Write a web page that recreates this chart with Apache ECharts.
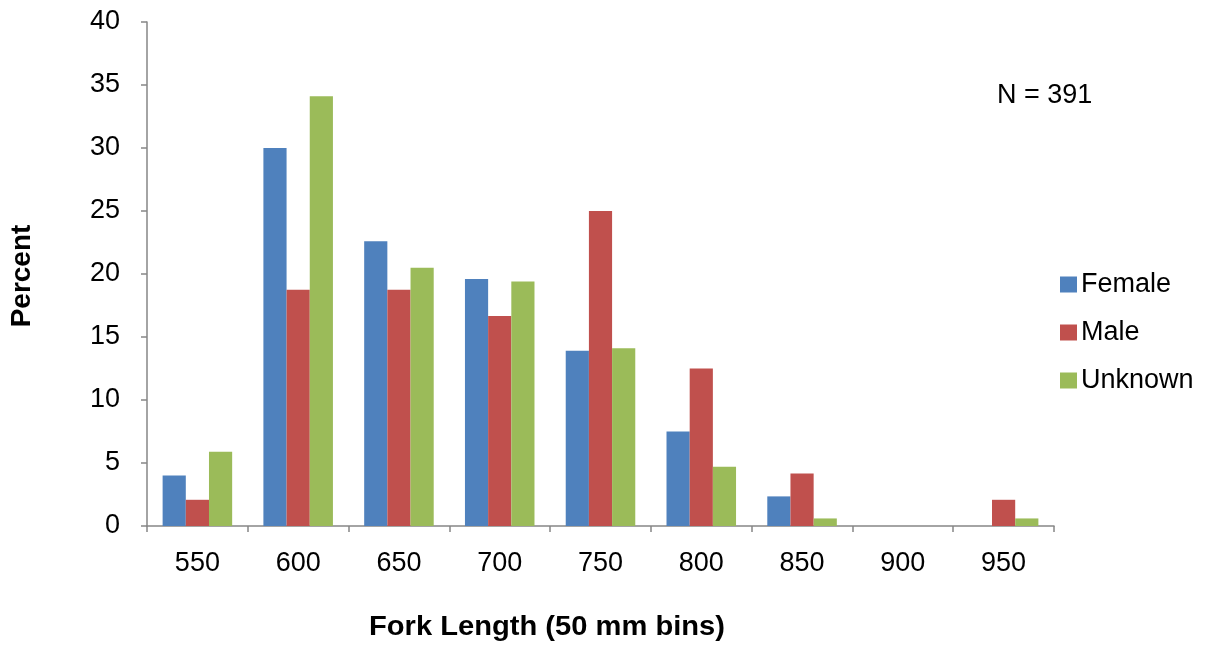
<!DOCTYPE html>
<html>
<head>
<meta charset="utf-8">
<script src="https://cdn.jsdelivr.net/npm/echarts@6/dist/echarts.min.js"></script>
<style>html,body{margin:0;padding:0;background:#fff}#c{width:1206px;height:645px}</style>
</head>
<body>
<div id="c"></div>
<script>
const categories = ['550','600','650','700','750','800','850','900','950'];
const female = [4.0, 30.0, 22.6, 19.6, 13.9, 7.5, 2.35, 0, 0];
const male = [2.08, 18.75, 18.75, 16.67, 25.0, 12.5, 4.17, 0, 2.08];
const unknown = [5.9, 34.1, 20.5, 19.4, 14.1, 4.7, 0.6, 0, 0.6];
const yTicks = {min: 0, max: 40, interval: 5};

const chart = echarts.init(document.getElementById('c'), null, {renderer: 'canvas'});
const font = 'Liberation Sans, Arial, sans-serif';
const axisColor = '#868686';
chart.setOption({
  animation: false,
  textStyle: {fontFamily: font},
  grid: {left: 147, right: 152, top: 22, bottom: 119, containLabel: false},
  legend: {
    orient: 'vertical', left: 1055, top: 266, itemWidth: 17, itemHeight: 16, itemGap: 21,
    icon: 'rect', textStyle: {fontSize: 27, color: '#000', fontFamily: font, padding: [0,0,0,-1]},
    data: ['Female','Male','Unknown']
  },
  xAxis: {
    type: 'category', data: categories,
    axisLine: {lineStyle: {color: axisColor, width: 1.5}},
    axisTick: {show: true, alignWithLabel: false, length: 6, lineStyle: {color: axisColor, width: 1.5}},
    axisLabel: {fontSize: 27, color: '#000', margin: 24, fontFamily: font}
  },
  yAxis: {
    type: 'value', min: yTicks.min, max: yTicks.max, interval: yTicks.interval,
    axisLine: {show: true, lineStyle: {color: axisColor, width: 1.5}},
    axisTick: {show: true, length: 6, lineStyle: {color: axisColor, width: 1.5}},
    splitLine: {show: false},
    axisLabel: {fontSize: 27, color: '#000', margin: 27, fontFamily: font}
  },
  series: [
    {name: 'Female', type: 'bar', data: female, barGap: '0%', barCategoryGap: '31%',
     itemStyle: {color: '#4F81BD'}},
    {name: 'Male', type: 'bar', data: male, barGap: '0%', barCategoryGap: '31%',
     itemStyle: {color: '#C0504D'}},
    {name: 'Unknown', type: 'bar', data: unknown, barGap: '0%', barCategoryGap: '31%',
     itemStyle: {color: '#9BBB59'}}
  ],
  graphic: [
    {type: 'text', x: 997, y: 96, style: {text: 'N = 391', fontSize: 27, fill: '#000', fontFamily: font, verticalAlign: 'middle'}},
    {type: 'text', x: 547, y: 627, scaleX: 1.04, style: {text: 'Fork Length (50 mm bins)', fontSize: 28, fontWeight: 'bold', fill: '#000', fontFamily: font, align: 'center', verticalAlign: 'middle'}},
    {type: 'text', x: 22, y: 276, rotation: Math.PI/2, style: {text: 'Percent', fontSize: 28, fontWeight: 'bold', fill: '#000', fontFamily: font, align: 'center', verticalAlign: 'middle'}}
  ]
});
</script>
</body>
</html>
